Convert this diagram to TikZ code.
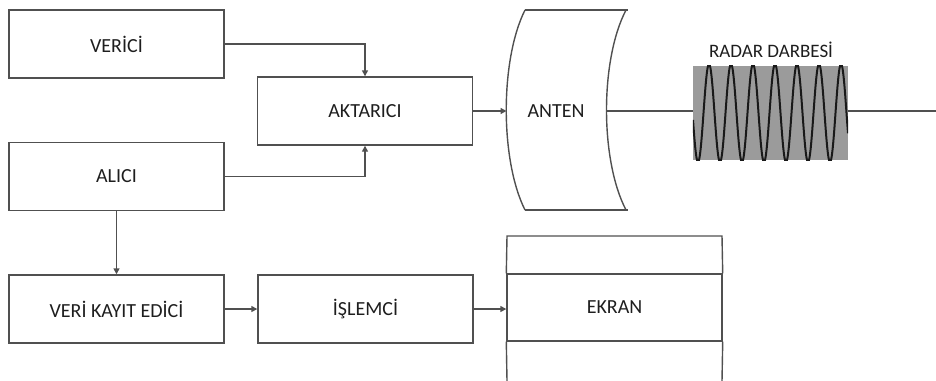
\documentclass[tikz,border=0pt]{standalone}
\usepackage{fontspec}
\setmainfont{Carlito}
\usetikzlibrary{arrows.meta}
\definecolor{ln}{RGB}{80,80,80}
\definecolor{txt}{RGB}{30,30,30}
\definecolor{pulsegray}{RGB}{155,155,155}
\tikzset{
  blk/.style={draw=ln, line width=1.4pt, minimum width=215pt, minimum height=68pt, inner sep=0pt, text=txt, font=\fontsize{20}{23}\selectfont},
  conn/.style={draw=ln, line width=1.4pt},
  arr/.style={conn, -{Triangle[length=6pt,width=6pt]}},
  edge/.style={draw=ln, line width=1.4pt}
}
\begin{document}
\begin{tikzpicture}[x=1pt,y=-1pt]
\useasboundingbox (0,0) rectangle (936,380);
% blocks
\node[blk] (verici) at (116.5,44) {VERİCİ};
\node[blk] (alici) at (116.5,176.5) {ALICI};
\node[blk] (aktarici) at (365,111) {AKTARICI};
\node[blk] (kayit) at (116.5,309) {VERİ KAYIT EDİCİ};
\node[blk] (islemci) at (365.5,309) {İŞLEMCİ};
% EKRAN
\node[blk, minimum height=67pt] (ekran) at (614.5,307.5) {EKRAN};
\draw[edge] (ekran.north west) -- (507,236) -- (722,236) -- (ekran.north east);
\draw[edge] (ekran.south west) -- (507,381);
\draw[edge] (ekran.south east) -- (722,381);
% ANTEN
\draw[edge] (525,10) -- (628,10);
\draw[edge] (525,210) -- (628,210);
\draw[edge] (525,10) .. controls (500,60) and (500,160) .. (525,210);
\draw[edge] (626,10) .. controls (600,60) and (600,160) .. (626,210);
\coordinate (antL) at (506.5,111);
\coordinate (antR) at (606.5,111);
\node[text=txt, font=\fontsize{20}{23}\selectfont] (anten) at (556,111) {ANTEN};
% pulse
\node[fill=pulsegray, minimum width=155pt, minimum height=94pt, inner sep=0pt] (pulse) at (770.5,113) {};
\begin{scope}
\clip (pulse.north west) rectangle (pulse.south east);
\draw[black!90, line width=2pt, domain=0:155, samples=400, smooth] plot ({693+\x}, {113 - 49*cos(16.3636*(\x-16))});
\end{scope}
\node[text=txt, font=\fontsize{19}{22}\selectfont] (plabel) at (771,50) {RADAR DARBESİ};
\coordinate (endp) at (936,111);
% connectors
\draw[arr] (verici.east) -| (aktarici.north);
\draw[arr] (alici.east) -| (aktarici.south);
\draw[arr] (alici.south) -- (kayit.north);
\draw[arr] (kayit.east) -- (islemci.west);
\draw[arr] (islemci.east) -- (ekran.west |- islemci.east);
\draw[arr] (aktarici.east) -- (antL);
\draw[conn] (antR) -- (pulse.west |- antR);
\draw[conn] (pulse.east |- antR) -- (endp);
\end{tikzpicture}
\end{document}
